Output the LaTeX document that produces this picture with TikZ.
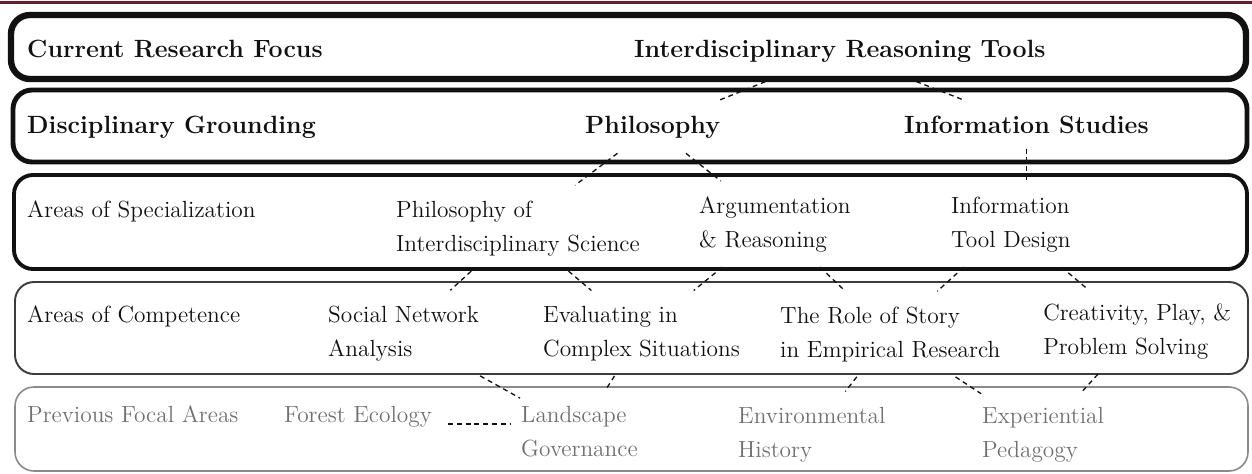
\documentclass[tikz,border=0pt]{standalone}
\usepackage{fontspec}
\usepackage{tikz}
\usetikzlibrary{positioning,calc}
\definecolor{MapInk}{HTML}{111111}
\definecolor{MapFade}{HTML}{707070}
\definecolor{MapEdge}{HTML}{3C3C3C}
\definecolor{MapPale}{HTML}{8A8A8A}
\definecolor{MapMaroon}{HTML}{6D1A2E}
\tikzset{
  maplabel/.style={font=\fontsize{13.3}{19.3}\selectfont, text=MapInk, align=left, anchor=base west, inner xsep=0.5pt, inner ysep=0.3cm},
  maptitle/.style={maplabel, font=\fontsize{14.2}{19}\selectfont\bfseries},
  mapfade/.style={maplabel, text=MapFade},
  tierbox/.style={draw=MapInk, rounded corners=0.38cm},
  maplink/.style={draw=MapInk, line width=0.75pt, dash pattern=on 2.8pt off 2.2pt},
  maprule/.style={draw=MapMaroon, line width=1.3pt}
}
\begin{document}
\begin{tikzpicture}
\useasboundingbox (0,0) rectangle (25.04,9.46);
\draw[maprule] (0,9.41) -- (25.04,9.41);
\draw[tierbox, line width=3.6pt] (0.22,7.88) rectangle (24.92,9.16);
\draw[tierbox, line width=2.8pt] (0.26,6.22) rectangle (24.94,7.66);
\draw[tierbox, line width=2.2pt] (0.28,4.08) rectangle (24.94,5.96);
\draw[tierbox, draw=MapEdge, line width=1.1pt] (0.30,1.98) rectangle (24.96,3.82);
\draw[tierbox, draw=MapPale, line width=0.9pt] (0.30,0.04) rectangle (24.96,1.72);

\node[maptitle] (crf) at (0.52,8.30) {Current Research Focus};
\node[maptitle] (irt) at (12.66,8.30) {Interdisciplinary Reasoning Tools};
\node[maptitle] (dg) at (0.52,6.80) {Disciplinary Grounding};
\node[maptitle] (phil) at (11.68,6.80) {Philosophy};
\node[maptitle] (is) at (18.06,6.80) {Information Studies};
\node[maplabel] (aos) at (0.52,5.12) {Areas of Specialization};
\node[maplabel] (philsci) at (7.90,4.44) {Philosophy of\\Interdisciplinary Science};
\node[maplabel] (arg) at (13.96,4.52) {Argumentation\\\& Reasoning};
\node[maplabel] (itd) at (19.00,4.52) {Information\\Tool Design};
\node[maplabel] (aoc) at (0.52,3.02) {Areas of Competence};
\node[maplabel] (sna) at (6.54,2.34) {Social Network\\Analysis};
\node[maplabel] (eval) at (10.84,2.34) {Evaluating in\\Complex Situations};
\node[maplabel] (story) at (15.58,2.32) {The Role of Story\\in Empirical Research};
\node[maplabel] (creat) at (20.84,2.38) {Creativity, Play, \&\\Problem Solving};
\node[mapfade] (pfa) at (0.52,1.02) {Previous Focal Areas};
\node[mapfade] (fe) at (5.66,1.02) {Forest Ecology};
\node[mapfade] (land) at (10.40,0.34) {Landscape\\Governance};
\node[mapfade] (env) at (14.74,0.32) {Environmental\\History};
\node[mapfade] (exp) at (19.62,0.32) {Experiential\\Pedagogy};

\draw[maplink] (irt) -- (phil);
\draw[maplink] (irt) -- (is);
\draw[maplink] (phil) -- (philsci);
\draw[maplink] (phil) -- (arg);
\draw[maplink] (is.south) -- (is.south |- itd.north);
\draw[maplink] (philsci) -- (sna);
\draw[maplink] (philsci) -- (eval);
\draw[maplink] (arg) -- (eval);
\draw[maplink] (arg) -- (story);
\draw[maplink] (itd) -- (story);
\draw[maplink] (itd) -- (creat);
\draw[maplink] (sna) -- (land);
\draw[maplink] (eval) -- (land);
\draw[maplink] (story) -- (env);
\draw[maplink] (story) -- (exp);
\draw[maplink] (creat) -- (exp);
\draw[maplink] ([xshift=0.3cm,yshift=-0.04cm]fe.base east) -- ([xshift=-0.2cm,yshift=-0.04cm]fe.base east -| land.west);
\end{tikzpicture}
\end{document}
